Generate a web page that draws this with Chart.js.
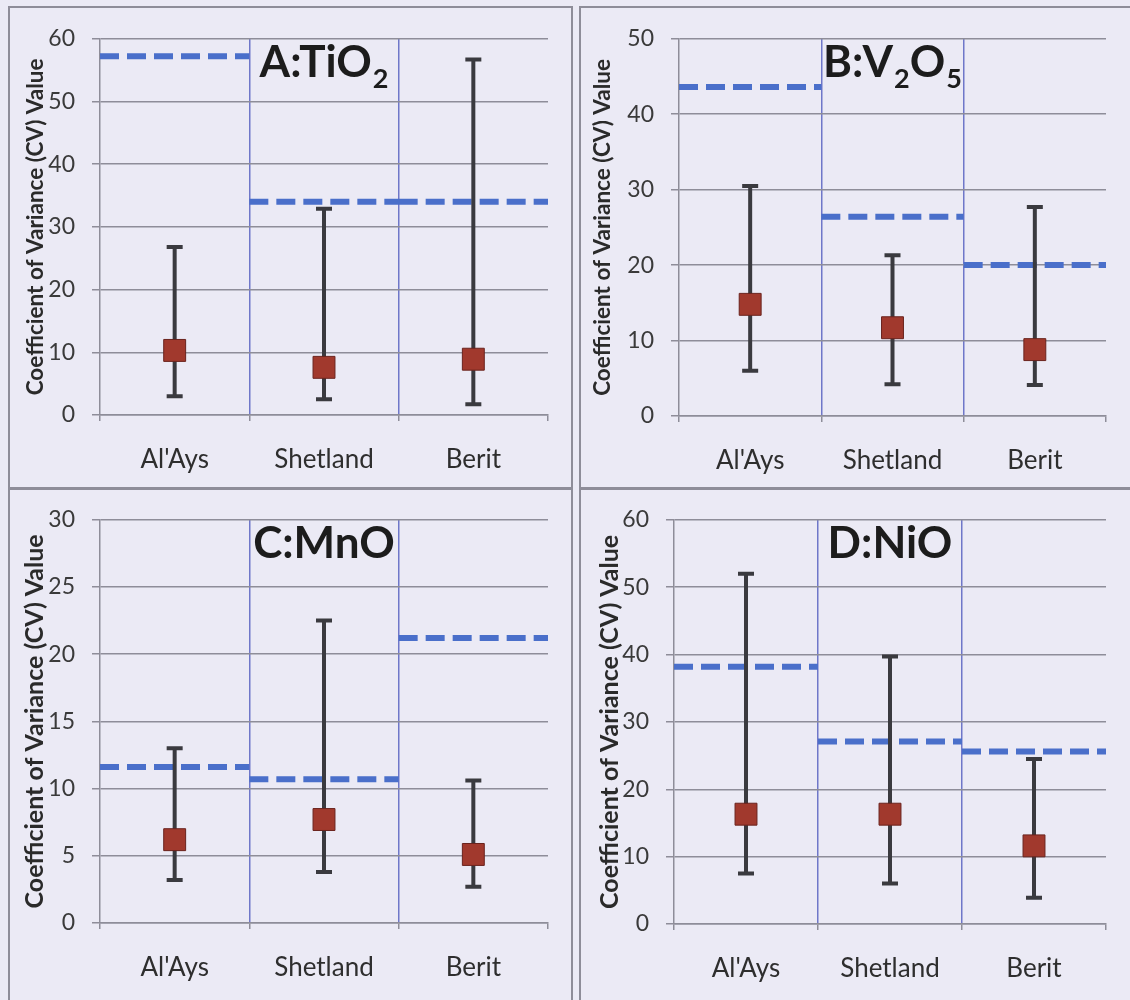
<!DOCTYPE html>
<html><head><meta charset="utf-8">
<script src="https://cdn.jsdelivr.net/npm/chart.js@4/dist/chart.umd.min.js"></script>
<style>
html,body{margin:0;padding:0;background:#ebeaf5;}
body{width:1130px;height:1000px;position:relative;overflow:hidden;}
.frame{position:absolute;border:2px solid #8e8d99;box-sizing:border-box;}
canvas{position:absolute;display:block;}
</style></head><body>
<div class="frame" style="left:8px;top:6px;width:565px;height:484px"></div>
<div class="frame" style="left:579px;top:6px;width:560px;height:484px"></div>
<div class="frame" style="left:8px;top:487px;width:565px;height:530px"></div>
<div class="frame" style="left:579px;top:487px;width:560px;height:530px"></div>
<canvas id="cA" width="561" height="479" style="left:10px;top:8px"></canvas>
<canvas id="cB" width="548" height="479" style="left:581px;top:8px"></canvas>
<canvas id="cC" width="561" height="511" style="left:10px;top:489px"></canvas>
<canvas id="cD" width="548" height="511" style="left:581px;top:489px"></canvas>
<script>
// ---- data ----
const categories = ["Al'Ays", "Shetland", "Berit"];
const yTitle = "Coefficient of Variance (CV) Value";

const tiMean = [10.3, 7.6, 8.9];
const tiLow = [3.0, 2.5, 1.7];
const tiHigh = [26.8, 32.9, 56.7];
const tiLimit = [57.2, 34.0, 34.0];

const vMean = [14.8, 11.7, 8.8];
const vLow = [6.0, 4.2, 4.1];
const vHigh = [30.5, 21.3, 27.7];
const vLimit = [43.6, 26.4, 20.0];

const mnMean = [6.2, 7.7, 5.1];
const mnLow = [3.2, 3.8, 2.7];
const mnHigh = [13.0, 22.5, 10.6];
const mnLimit = [11.6, 10.7, 21.2];

const niMean = [16.3, 16.3, 11.6];
const niLow = [7.5, 6.0, 3.9];
const niHigh = [52.0, 39.7, 24.5];
const niLimit = [38.2, 27.1, 25.6];

const tiTicks = [0, 60, 10];
const vTicks = [0, 50, 10];
const mnTicks = [0, 30, 5];
const niTicks = [0, 60, 10];

const tiTitle = [["A:TiO", false], ["2", true]];
const vTitle = [["B:V", false], ["2", true], ["O", false], ["5", true]];
const mnTitle = [["C:MnO", false]];
const niTitle = [["D:NiO", false]];

// ---- styles ----
const GRID = '#8e8d99';
const VLINE = '#6f77c9';
const DASH = '#4a6fca';
const BAR = '#3a3a3f';
const MARK = '#a1392d';
const MARKB = '#6a231d';
const FONT = 'Lato, "Open Sans", sans-serif';

const errorBars = {
  id: 'errorBars',
  beforeDatasetDraw(chart, args, opts) {
    if (args.index !== 0) return;
    const {ctx} = chart; const xs = chart.scales.x, ys = chart.scales.y;
    ctx.save();
    ctx.strokeStyle = BAR; ctx.lineCap = 'butt';
    opts.low.forEach((lo, i) => {
      const x = xs.getPixelForValue(i);
      const yl = ys.getPixelForValue(lo), yh = ys.getPixelForValue(opts.high[i]);
      ctx.lineWidth = 4;
      ctx.beginPath(); ctx.moveTo(x, yl); ctx.lineTo(x, yh); ctx.stroke();
      ctx.beginPath(); ctx.moveTo(x - 8, yl); ctx.lineTo(x + 8, yl);
      ctx.moveTo(x - 8, yh); ctx.lineTo(x + 8, yh); ctx.stroke();
    });
    ctx.restore();
  }
};

const panelTitle = {
  id: 'panelTitle',
  afterDatasetsDraw(chart, args, opts) {
    const {ctx} = chart; const xs = chart.scales.x;
    const size = 44, sub = 27;
    ctx.save();
    ctx.fillStyle = '#1c1c1c'; ctx.textBaseline = 'alphabetic'; ctx.textAlign = 'left';
    let w = 0;
    opts.parts.forEach(([t, s]) => { ctx.font = `bold ${s ? sub : size}px ${FONT}`; w += ctx.measureText(t).width + (s ? 1 : 0); });
    let x = xs.getPixelForValue(1) - w / 2;
    const base = chart.chartArea.top + 38;
    opts.parts.forEach(([t, s]) => {
      ctx.font = `bold ${s ? sub : size}px ${FONT}`;
      ctx.fillText(t, x + (s ? 1 : 0), s ? base + 11 : base);
      x += ctx.measureText(t).width + (s ? 1 : 0);
    });
    ctx.restore();
  }
};

function makeChart(id, mean, low, high, limit, ticks, title, lay) {
  const limitPts = [];
  limit.forEach((v, i) => {
    limitPts.push({x: i - 0.5, y: v}, {x: i + 0.5, y: v}, {x: i + 0.5, y: null});
  });
  const bounds = categories.map((c, i) => i - 0.5).concat([categories.length - 0.5]);
  const tickVals = bounds.concat(categories.map((c, i) => i)).sort((a, b) => a - b);
  new Chart(document.getElementById(id), {
    type: 'scatter',
    data: {
      datasets: [
        {data: mean.map((v, i) => ({x: i, y: v})), pointStyle: 'rect', pointRadius: 15.5,
         pointHoverRadius: 15.5, backgroundColor: MARK, borderColor: MARKB, borderWidth: 1, showLine: false},
        {data: limitPts, showLine: true, spanGaps: false, borderColor: DASH, borderWidth: 6,
         borderDash: [19, 8], borderCapStyle: 'butt', pointRadius: 0, fill: false}
      ]
    },
    options: {
      responsive: false, animation: false, devicePixelRatio: 1,
      layout: {padding: {top: lay.top, right: lay.right, left: 0, bottom: 0}},
      plugins: {legend: {display: false}, tooltip: {enabled: false},
        errorBars: {low: low, high: high}, panelTitle: {parts: title}},
      scales: {
        x: {
          type: 'linear', min: -0.5, max: categories.length - 0.5,
          afterBuildTicks: s => { s.ticks = tickVals.map(v => ({value: v})); },
          afterFit: s => { s.height = lay.xh; },
          ticks: {autoSkip: false, maxRotation: 0, minRotation: 0, padding: 23,
            callback: v => Number.isInteger(v) ? categories[v] : '',
            font: {family: FONT, size: 26}, color: '#2e2e2e'},
          grid: {
            lineWidth: 1.5, tickLength: 6,
            color: c => (c.tick && !Number.isInteger(c.tick.value) && c.tick.value > -0.5 && c.tick.value < categories.length - 0.5) ? VLINE : 'rgba(0,0,0,0)',
            tickColor: c => (c.tick && !Number.isInteger(c.tick.value)) ? GRID : 'rgba(0,0,0,0)'
          },
          border: {display: true, color: GRID, width: 1.5}
        },
        y: {
          min: ticks[0], max: ticks[1],
          afterFit: s => { s.width = lay.yw; },
          ticks: {stepSize: ticks[2], padding: 17, font: {family: FONT, size: 23}, color: '#3a3a3a'},
          grid: {color: GRID, lineWidth: 1.5, tickLength: 8, tickColor: GRID},
          border: {display: true, color: GRID, width: 1.5},
          title: {display: true, text: yTitle, color: '#2a2a2a',
            font: {family: FONT, size: lay.tf, weight: 'bold'}, padding: {top: lay.tp, bottom: 0}}
        }
      }
    },
    plugins: [errorBars, panelTitle]
  });
}

makeChart('cA', tiMean, tiLow, tiHigh, tiLimit, tiTicks, tiTitle, {top: 24, right: 21, xh: 72, yw: 90, tf: 22.5, tp: 12});
makeChart('cB', vMean, vLow, vHigh, vLimit, vTicks, vTitle, {top: 24, right: 10, xh: 71, yw: 98, tf: 22.5, tp: 8});
makeChart('cC', mnMean, mnLow, mnHigh, mnLimit, mnTicks, mnTitle, {top: 25, right: 20, xh: 77, yw: 90, tf: 25, tp: 10});
makeChart('cD', niMean, niLow, niHigh, niLimit, niTicks, niTitle, {top: 25, right: 10, xh: 76, yw: 93, tf: 25, tp: 14});
</script>
</body></html>
